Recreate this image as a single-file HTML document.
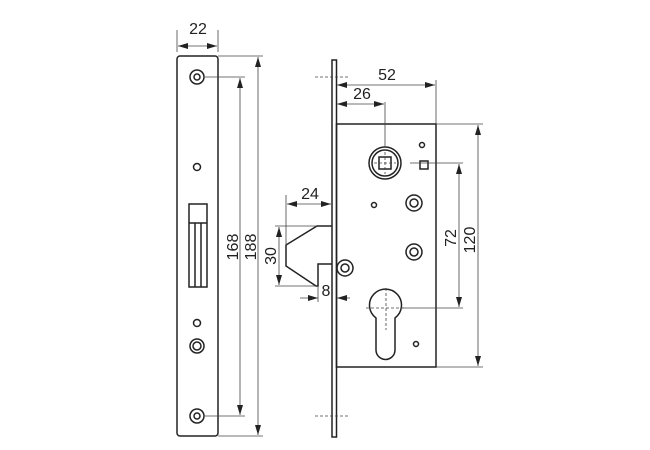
<!DOCTYPE html>
<html><head><meta charset="utf-8"><style>body{margin:0;background:#fff}svg{display:block}text{font-family:"Liberation Sans",sans-serif;font-size:16px;fill:#222}</style></head><body>
<svg width="650" height="450" viewBox="0 0 650 450" xmlns="http://www.w3.org/2000/svg">
<defs><marker id="a" viewBox="0 0 10 6" refX="10" refY="3" markerWidth="10" markerHeight="6" orient="auto-start-reverse" markerUnits="userSpaceOnUse"><path d="M0,0L10,3L0,6z" fill="#222"/></marker></defs>
<g fill="none" stroke="#222" stroke-width="1.5">
<rect x="177" y="56" width="41" height="380" rx="3"/>
<circle cx="197" cy="77" r="7"/><circle cx="197" cy="77" r="3"/>
<circle cx="197" cy="416" r="7"/><circle cx="197" cy="416" r="3"/>
<circle cx="197" cy="167" r="3.5"/><circle cx="197" cy="323" r="3.5"/>
<circle cx="197" cy="346" r="7"/><circle cx="197" cy="346" r="4"/>
<rect x="189" y="204" width="18" height="83"/>
<line x1="189" y1="223" x2="207" y2="223"/><line x1="195" y1="223" x2="195" y2="287"/><line x1="201" y1="223" x2="201" y2="287"/>
<rect x="332" y="60" width="4.5" height="377"/>
<rect x="336.5" y="124" width="99.5" height="243"/>
<circle cx="385" cy="163" r="16"/><circle cx="385" cy="163" r="13"/><rect x="379" y="157" width="12" height="12"/>
<rect x="420" y="161" width="8" height="8"/>
<circle cx="422" cy="145" r="2.5"/><circle cx="374" cy="205" r="2.5"/><circle cx="416" cy="344" r="2.5"/>
<circle cx="414" cy="203" r="8"/><circle cx="414" cy="203" r="4"/>
<circle cx="414" cy="252" r="8"/><circle cx="414" cy="252" r="4"/>
<circle cx="345" cy="268" r="8"/><circle cx="345" cy="268" r="4"/>
<path d="M376,318 A16,16 0 1 1 395,318 L395,350 A9.5,9.5 0 0 1 376,350 Z"/>
<path d="M332,226 L317,226 L286,245 L286,266 L316,286 L318,286 L318,264 L332,264"/>
</g>
<g fill="none" stroke="#444" stroke-width="0.8">
<line x1="177" y1="52" x2="177" y2="30"/><line x1="218" y1="52" x2="218" y2="30"/>
<line x1="178" y1="46" x2="217" y2="46" marker-start="url(#a)" marker-end="url(#a)"/>
<line x1="205" y1="77" x2="245" y2="77"/><line x1="205" y1="416" x2="245" y2="416"/>
<line x1="240" y1="78" x2="240" y2="415" marker-start="url(#a)" marker-end="url(#a)"/>
<line x1="218" y1="56" x2="263" y2="56"/><line x1="218" y1="436" x2="263" y2="436"/>
<line x1="258" y1="57" x2="258" y2="435" marker-start="url(#a)" marker-end="url(#a)"/>
<line x1="436" y1="124" x2="436" y2="80"/>
<line x1="337" y1="85" x2="435" y2="85" marker-start="url(#a)" marker-end="url(#a)"/>
<line x1="385" y1="147" x2="385" y2="102"/>
<line x1="337" y1="104" x2="384" y2="104" marker-start="url(#a)" marker-end="url(#a)"/>
<line x1="410" y1="163" x2="463" y2="163"/><line x1="401" y1="308" x2="463" y2="308"/>
<line x1="459" y1="164" x2="459" y2="307" marker-start="url(#a)" marker-end="url(#a)"/>
<line x1="436" y1="124" x2="483" y2="124"/><line x1="436" y1="367" x2="483" y2="367"/>
<line x1="478" y1="125" x2="478" y2="366" marker-start="url(#a)" marker-end="url(#a)"/>
<line x1="286" y1="245" x2="286" y2="195"/>
<line x1="287" y1="204" x2="331" y2="204" marker-start="url(#a)" marker-end="url(#a)"/>
<line x1="275" y1="226" x2="317" y2="226"/><line x1="275" y1="286" x2="316" y2="286"/>
<line x1="279" y1="227" x2="279" y2="285" marker-start="url(#a)" marker-end="url(#a)"/>
<line x1="318" y1="287" x2="318" y2="302"/>
<line x1="300" y1="298" x2="318" y2="298" marker-end="url(#a)"/>
<line x1="350" y1="298" x2="337" y2="298" marker-end="url(#a)"/>
<g stroke-dasharray="3,2"><line x1="315" y1="77" x2="350" y2="77"/><line x1="315" y1="416" x2="350" y2="416"/>
<line x1="366" y1="308" x2="405" y2="308"/><line x1="386" y1="288" x2="386" y2="330"/>
<line x1="374" y1="163" x2="396" y2="163"/><line x1="385" y1="152" x2="385" y2="174"/></g>
</g>
<text x="198" y="34" text-anchor="middle">22</text>
<text x="387" y="80" text-anchor="middle">52</text>
<text x="362" y="99" text-anchor="middle">26</text>
<text x="310" y="199" text-anchor="middle">24</text>
<text x="326" y="296" text-anchor="middle">8</text>
<text transform="translate(238,247) rotate(-90)" text-anchor="middle">168</text>
<text transform="translate(256,247) rotate(-90)" text-anchor="middle">188</text>
<text transform="translate(276,256) rotate(-90)" text-anchor="middle">30</text>
<text transform="translate(456,238) rotate(-90)" text-anchor="middle">72</text>
<text transform="translate(475,240) rotate(-90)" text-anchor="middle">120</text>
</svg>
</body></html>
